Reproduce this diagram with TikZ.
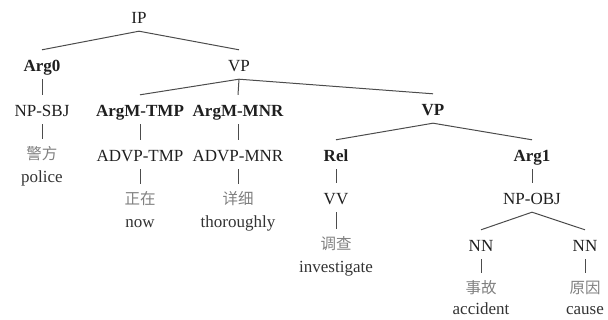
\documentclass[tikz,border=0pt]{standalone}
\usepackage{fontspec}
\setmainfont{Liberation Serif}
\newfontfamily\cjk{Noto Sans CJK SC}
\begin{document}
\begin{tikzpicture}[x=1pt,y=-1pt,
  lab/.style={font=\fontsize{17}{17}\selectfont, text=black!88, inner ysep=0pt, inner xsep=1pt, text height=22pt, text depth=7pt, anchor=base},
  blab/.style={lab, font=\fontsize{17}{17}\selectfont\bfseries},
  gloss/.style={font=\fontsize{17}{17}\selectfont, text=black!80, inner sep=0pt, anchor=base},
  zh/.style={font=\cjk\fontsize{15.5}{15.5}\selectfont, text=black!50, inner ysep=0pt, inner xsep=0pt, text height=21pt, text depth=3pt, anchor=base},
  tedge/.style={draw=black!70, line width=1pt}]
\useasboundingbox (0,0) rectangle (608,320);
% row 0
\node[lab] (ip) at (139,24) {IP};
% row 1
\node[blab] (arg0) at (42,72) {Arg0};
\node[lab] (vp) at (239,72) {VP};
% row 2
\node[lab] (npsbj) at (42,117) {NP-SBJ};
\node[blab] (argtmp) at (140,117) {ArgM-TMP};
\node[blab] (argmnr) at (238,117) {ArgM-MNR};
\node[blab] (vp2) at (433,116) {VP};
% row 3
\node[zh] (jingfang) at (42,160) {警方};
\node[gloss] (police) at (42,183) {police};
\node[lab] (advptmp) at (140,162) {ADVP-TMP};
\node[lab] (advpmnr) at (238,162) {ADVP-MNR};
\node[blab] (rel) at (336,162) {Rel};
\node[blab] (arg1) at (532,162) {Arg1};
% row 4
\node[zh] (zhengzai) at (140,205) {正在};
\node[gloss] (now) at (140,228) {now};
\node[zh] (xiangxi) at (238,205) {详细};
\node[gloss] (thor) at (238,228) {thoroughly};
\node[lab] (vv) at (336,205) {VV};
\node[lab] (npobj) at (532,205) {NP-OBJ};
% row 5
\node[zh] (diaocha) at (336,250) {调查};
\node[gloss] (invest) at (336,273) {investigate};
\node[lab] (nn1) at (481,252) {NN};
\node[lab] (nn2) at (585,252) {NN};
% row 6
\node[zh] (shigu) at (481,294) {事故};
\node[gloss] (accident) at (481,315) {accident};
\node[zh] (yuanyin) at (585,294) {原因};
\node[gloss] (cause) at (585,315) {cause};
% edges
\draw[tedge] (arg0.north) -- (ip.south) -- (vp.north);
\draw[tedge] (arg0.south) -- (npsbj.north);
\draw[tedge] (npsbj.south) -- (jingfang.north);
\draw[tedge] (argtmp.north) -- (vp.south) -- (vp2.north);
\draw[tedge] (vp.south) -- (argmnr.north);
\draw[tedge] (argtmp.south) -- (advptmp.north);
\draw[tedge] (argmnr.south) -- (advpmnr.north);
\draw[tedge] (advptmp.south) -- (zhengzai.north);
\draw[tedge] (advpmnr.south) -- (xiangxi.north);
\draw[tedge] (rel.north) -- (vp2.south) -- (arg1.north);
\draw[tedge] (rel.south) -- (vv.north);
\draw[tedge] (vv.south) -- (diaocha.north);
\draw[tedge] (arg1.south) -- (npobj.north);
\draw[tedge] (nn1.north) -- (npobj.south) -- (nn2.north);
\draw[tedge] (nn1.south) -- (shigu.north);
\draw[tedge] (nn2.south) -- (yuanyin.north);
\end{tikzpicture}
\end{document}
